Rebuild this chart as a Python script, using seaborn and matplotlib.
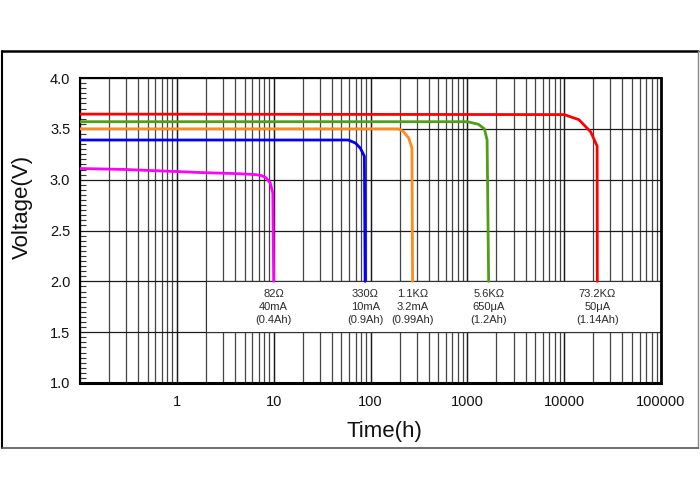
import numpy as np
import pandas as pd
import matplotlib
matplotlib.use("Agg")
import matplotlib.pyplot as plt
from matplotlib.patches import Rectangle
from matplotlib.lines import Line2D
from matplotlib.ticker import MultipleLocator, LogLocator, NullFormatter
import seaborn as sns

# ---------------- data ----------------
series_names = ["82Ω", "330Ω", "1.1KΩ", "5.6KΩ", "73.2KΩ"]

t_82 = [0.1, 0.3, 0.53, 1.0, 1.75, 4.0, 6.5, 7.5, 8.3, 9.2, 9.8, 10.0]
v_82 = [3.11, 3.10, 3.09, 3.08, 3.07, 3.06, 3.05, 3.04, 3.02, 2.97, 2.87, 2.0]

t_330 = [0.1, 59, 70, 78.5, 86.5, 88]
v_330 = [3.39, 3.39, 3.36, 3.31, 3.23, 2.0]

t_1k1 = [0.1, 195, 220, 248, 268, 272]
v_1k1 = [3.50, 3.50, 3.47, 3.41, 3.31, 2.0]

t_5k6 = [0.1, 1000, 1300, 1500, 1600, 1660]
v_5k6 = [3.57, 3.57, 3.545, 3.50, 3.39, 2.0]

t_73k = [0.1, 10000, 14200, 18800, 21900, 22000]
v_73k = [3.645, 3.64, 3.59, 3.47, 3.33, 2.0]

currents = ["40mA", "10mA", "3.2mA", "650μA", "50μA"]
capacities = ["(0.4Ah)", "(0.9Ah)", "(0.99Ah)", "(1.2Ah)", "(1.14Ah)"]

x_tick_values = [1, 10, 100, 1000, 10000, 100000]
x_tick_labels = ["1", "10", "100", "1000", "10000", "100000"]
y_tick_values = [1.0, 1.5, 2.0, 2.5, 3.0, 3.5, 4.0]

colors = ["#ff00ff", "#0000ff", "#ff8c1a", "#4f9f14", "#ff0000"]

all_t = [t_82, t_330, t_1k1, t_5k6, t_73k]
all_v = [v_82, v_330, v_1k1, v_5k6, v_73k]
frames = []
for name, ts, vs in zip(series_names, all_t, all_v):
    frames.append(pd.DataFrame({"t": ts, "v": vs, "load": name}))
df = pd.concat(frames, ignore_index=True)

# ---------------- style ----------------
sns.set_style("white")
plt.rcParams["font.family"] = ["Liberation Sans", "DejaVu Sans"]

fig = plt.figure(figsize=(7, 5), dpi=100)
ax = fig.add_axes([80 / 700, 1 - 383 / 500, 581 / 700, 305 / 500])

ax.set_xscale("log")
ax.set_xlim(0.1, 100000)
ax.set_ylim(1.0, 4.0)

ax.xaxis.set_minor_locator(LogLocator(base=10, subs=np.arange(2, 10), numticks=100))
ax.xaxis.set_minor_formatter(NullFormatter())
ax.set_xticks(x_tick_values)
ax.set_xticklabels(x_tick_labels)
ax.set_yticks(y_tick_values)
ax.set_yticklabels([f"{v:.1f}" for v in y_tick_values])
ax.yaxis.set_minor_locator(MultipleLocator(0.05))

ax.grid(which="major", axis="both", color="#1a1a1a", lw=0.9, zorder=0)
for d in [0.1, 1, 10, 100, 1000, 10000]:
    ax.axvline(d, color="#1a1a1a", lw=0.9, zorder=0.5)
ax.grid(which="minor", axis="x", color="#444444", lw=0.9, zorder=0)
ax.set_axisbelow(True)

ax.tick_params(axis="x", which="both", length=0, labelsize=10.5, pad=9, colors="#111")
ax.tick_params(axis="y", which="major", length=0, labelsize=10.5, pad=7, colors="#111")
ax.tick_params(axis="y", which="minor", direction="in", length=4, width=0.8, color="#333", left=True)

# white annotation box
ax.add_patch(Rectangle((2, 1.5), 100000 - 2, 0.5, facecolor="white",
                       edgecolor="#333", lw=0.8, zorder=1))

sns.lineplot(data=df, x="t", y="v", hue="load", hue_order=series_names,
             palette=colors, sort=False, estimator=None, units="load",
             lw=2.0, legend=False, ax=ax, zorder=3)

# annotations
for name, ts, cur, cap in zip(series_names, all_t, currents, capacities):
    ax.text(ts[-1], 1.75, f"{name}\n{cur}\n{cap}", ha="center", va="center",
            fontsize=8, color="#2a2a2a", linespacing=1.38, zorder=4)

for side in ["top", "right", "bottom", "left"]:
    ax.spines[side].set_color("black")
ax.spines["bottom"].set_linewidth(2.2)
ax.spines["right"].set_linewidth(2.0)
ax.spines["left"].set_linewidth(1.5)
ax.spines["top"].set_linewidth(1.5)

ax.set_xlabel("Time(h)", fontsize=16, color="#111")
ax.set_ylabel("Voltage(V)", fontsize=16, color="#111")
ax.xaxis.label.set_va("center")
ax.yaxis.label.set_va("center")
ax.xaxis.set_label_coords((384 - 80) / 581, (383 - 431) / 305)
ax.yaxis.set_label_coords((22 - 80) / 581, (383 - 207) / 305)

# outer frame
fig.add_artist(Line2D([2 / 700, 698 / 700], [1 - 51 / 500] * 2, transform=fig.transFigure, color="black", lw=1.8))
fig.add_artist(Line2D([2 / 700] * 2, [1 - 51 / 500, 1 - 448 / 500], transform=fig.transFigure, color="black", lw=1.5))
fig.add_artist(Line2D([698 / 700] * 2, [1 - 51 / 500, 1 - 448 / 500], transform=fig.transFigure, color="#888", lw=1.0))
fig.add_artist(Line2D([2 / 700, 698 / 700], [1 - 448 / 500] * 2, transform=fig.transFigure, color="#555", lw=1.2))

fig.savefig("out.png", dpi=100)
